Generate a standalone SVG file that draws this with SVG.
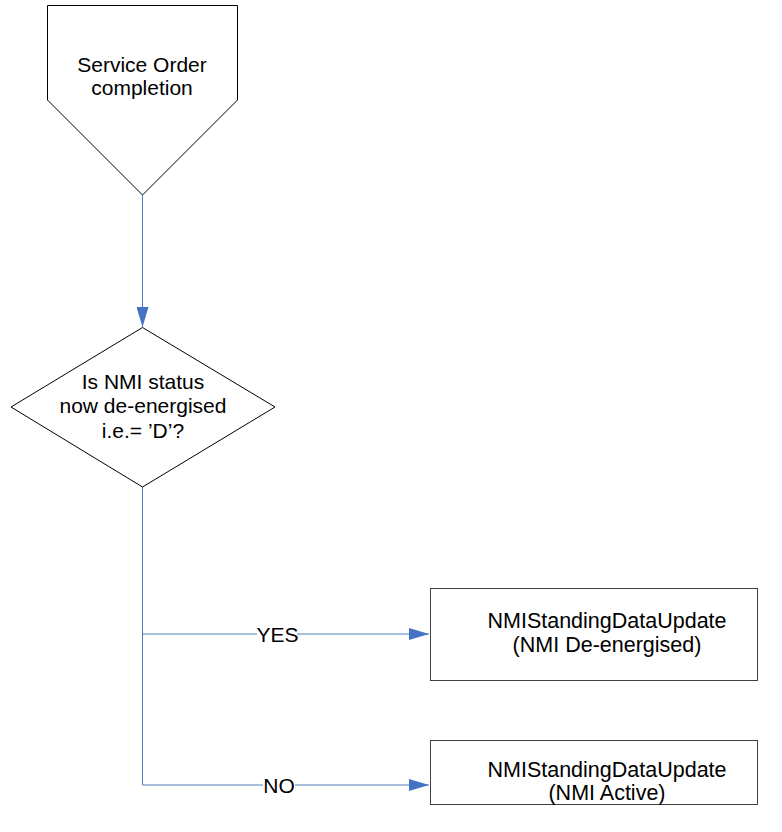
<svg xmlns="http://www.w3.org/2000/svg" width="782" height="832" viewBox="0 0 782 832">
  <style>
    .shape { fill: #ffffff; stroke: #000000; stroke-width: 1; }
    .box { fill: #ffffff; stroke: #404040; stroke-width: 1; }
    .wire { fill: none; stroke: #4A7EBB; stroke-width: 1; }
    .label { font-family: "Liberation Sans", Arial, sans-serif; font-size: 21px; fill: #000000; text-anchor: middle; }
    .boxlabel { font-size: 21.5px; }
    .tag { fill: #ffffff; stroke: none; }
  </style>
  <defs>
    <marker id="arrow" viewBox="0 0 20 12" refX="20" refY="6" markerWidth="20" markerHeight="12" markerUnits="userSpaceOnUse" orient="auto">
      <path d="M0,0 L20,6 L0,12 Z" fill="#4472C4"/>
    </marker>
  </defs>
  <rect width="782" height="832" fill="#ffffff"/>

  <g id="connectors">
    <path class="wire" d="M142.5,195 L142.5,327" marker-end="url(#arrow)"/>
    <path class="wire" d="M142.5,487 L142.5,785 L429,785" marker-end="url(#arrow)"/>
    <path class="wire" d="M142.5,634 L429,634" marker-end="url(#arrow)"/>
    <rect class="tag" x="257" y="622" width="40" height="24"/>
    <text class="label" x="277.5" y="642">YES</text>
    <rect class="tag" x="263" y="773" width="32" height="24"/>
    <text class="label" x="279" y="793">NO</text>
  </g>

  <g id="start">
    <path class="shape" d="M47.5,5.5 L237.5,5.5 L237.5,100 L142.5,195 L47.5,100 Z"/>
    <text class="label" x="142" y="72">Service Order</text>
    <text class="label" x="142" y="95">completion</text>
  </g>

  <g id="decision">
    <path class="shape" d="M142.5,327.5 L275,407 L142.5,487 L11,407 Z"/>
    <text class="label" x="143" y="389">Is NMI status</text>
    <text class="label" x="143" y="413">now de-energised</text>
    <text class="label" x="143" y="438">i.e.= ’D’?</text>
  </g>

  <g id="update-deenergised">
    <rect class="box" x="430.5" y="588.5" width="327" height="92"/>
    <text class="label boxlabel" x="607" y="628">NMIStandingDataUpdate</text>
    <text class="label boxlabel" x="607" y="652">(NMI De-energised)</text>
  </g>

  <g id="update-active">
    <rect class="box" x="430.5" y="740.5" width="327" height="64"/>
    <text class="label boxlabel" x="607" y="777">NMIStandingDataUpdate</text>
    <text class="label boxlabel" x="607" y="800">(NMI Active)</text>
  </g>
</svg>
